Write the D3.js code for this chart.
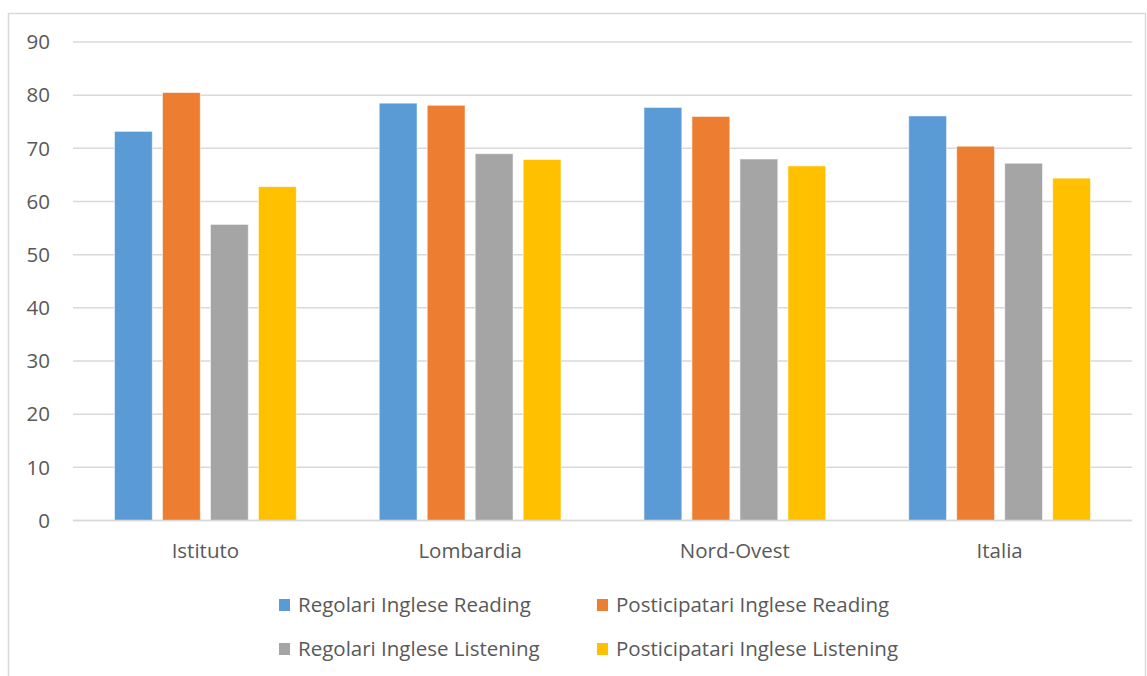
<!DOCTYPE html>
<html>
<head>
<meta charset="utf-8">
<script src="https://cdn.jsdelivr.net/npm/d3@7"></script>
<style>
  body { margin: 0; background: #fff; }
  svg text { font-family: "Open Sans", "Noto Sans", sans-serif; fill: #595959; }
</style>
</head>
<body>
<svg width="1147" height="676"></svg>
<script>
const categories = ["Istituto", "Lombardia", "Nord-Ovest", "Italia"];
const seriesNames = [
    "Regolari Inglese Reading",
    "Posticipatari Inglese Reading",
    "Regolari Inglese Listening",
    "Posticipatari Inglese Listening"
];
const regolariReading = [73.2, 78.5, 77.7, 76.1];
const posticipatariReading = [80.5, 78.1, 76.0, 70.4];
const regolariListening = [55.7, 69.0, 68.0, 67.2];
const posticipatariListening = [62.8, 67.9, 66.7, 64.4];
const yTicks = [0, 10, 20, 30, 40, 50, 60, 70, 80, 90];
const colors = ["#5B9BD5", "#ED7D31", "#A5A5A5", "#FFC000"];

const series = [regolariReading, posticipatariReading, regolariListening, posticipatariListening];

const svg = d3.select("svg");
const width = +svg.attr("width");
const height = +svg.attr("height");
const fontSize = 20.5;

// chart frame
svg.append("rect")
    .attr("x", 8.5).attr("y", 13.5)
    .attr("width", 1137).attr("height", 700)
    .attr("fill", "none")
    .attr("stroke", "#D9D9D9")
    .attr("stroke-width", 1.5);

const plot = { left: 73, right: 1132, top: 42, bottom: 520.5 };

const yScale = d3.scaleLinear().domain([0, 90]).range([plot.bottom, plot.top]);
const x0 = d3.scaleBand().domain(categories)
    .range([plot.left, plot.right])
    .paddingInner(0.275).paddingOuter(0.1375);
const x1 = d3.scaleBand().domain(d3.range(series.length))
    .range([0, x0.bandwidth()])
    .paddingInner(0.21).paddingOuter(0.105);

// gridlines
svg.append("g").selectAll("line")
    .data(yTicks)
    .join("line")
    .attr("x1", plot.left).attr("x2", plot.right)
    .attr("y1", d => yScale(d)).attr("y2", d => yScale(d))
    .attr("stroke", "#D9D9D9")
    .attr("stroke-width", 1.5);

// y tick labels
svg.append("g").selectAll("text")
    .data(yTicks)
    .join("text")
    .attr("x", 50)
    .attr("y", d => yScale(d))
    .attr("dy", "0.35em")
    .attr("text-anchor", "end")
    .attr("font-size", fontSize)
    .text(d => d);

// bars
const groups = svg.append("g").selectAll("g")
    .data(categories)
    .join("g")
    .attr("transform", c => `translate(${x0(c)},0)`);

groups.selectAll("rect")
    .data((c, ci) => series.map((s, si) => ({ si, v: s[ci] })))
    .join("rect")
    .attr("x", d => x1(d.si))
    .attr("width", x1.bandwidth())
    .attr("y", d => yScale(d.v))
    .attr("height", d => yScale(0) - yScale(d.v))
    .attr("fill", d => colors[d.si])
    .attr("stroke", "#fff")
    .attr("stroke-opacity", 0.6)
    .attr("stroke-width", 1);

// baseline
svg.append("line")
    .attr("x1", plot.left).attr("x2", plot.right)
    .attr("y1", yScale(0)).attr("y2", yScale(0))
    .attr("stroke", "#D9D9D9")
    .attr("stroke-width", 1.5);

// category labels
svg.append("g").selectAll("text")
    .data(categories)
    .join("text")
    .attr("x", c => x0(c) + x0.bandwidth() / 2)
    .attr("y", 558)
    .attr("text-anchor", "middle")
    .attr("font-size", fontSize)
    .text(c => c);

// legend
const legendPos = [[279, 605], [597, 605], [279, 649], [597, 649]];
const legend = svg.append("g").selectAll("g")
    .data(seriesNames)
    .join("g")
    .attr("transform", (d, i) => `translate(${legendPos[i][0]},${legendPos[i][1]})`);

legend.append("rect")
    .attr("x", 0).attr("y", -6)
    .attr("width", 11).attr("height", 12)
    .attr("fill", (d, i) => colors[i]);

legend.append("text")
    .attr("x", 19)
    .attr("y", 0)
    .attr("dy", "0.35em")
    .attr("font-size", fontSize)
    .text(d => d);
</script>
</body>
</html>
